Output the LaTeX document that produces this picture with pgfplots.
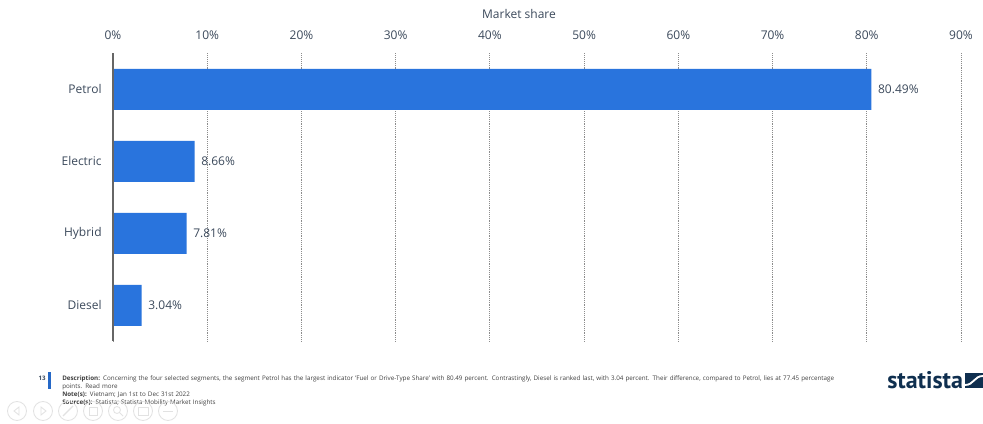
\documentclass[border=0pt]{standalone}
\usepackage{pgfplots}
\pgfplotsset{compat=1.18}
\usepackage{fontspec}
\setmainfont{Open Sans}
\newfontfamily\logofont{PT Sans}
\definecolor{barblue}{HTML}{2974DD}
\definecolor{txt}{HTML}{3C4A5C}
\definecolor{navy}{HTML}{0F2F4F}
\definecolor{navc}{HTML}{E2E2E2}
\newlength{\px}\setlength{\px}{0.75pt}
\begin{document}
\begin{tikzpicture}[x=\px,y=-\px]
\path[use as bounding box] (0,0) rectangle (983,424);
\fill[white] (0,0) rectangle (983,424);
\begin{axis}[
  at={(84.75pt,-256.1pt)},anchor=south west,
  scale only axis,width=848\px,height=288\px,
  xmin=0,xmax=90,ymin=-0.5,ymax=3.5,y dir=reverse,
  xbar,bar width=41\px,bar shift=0pt,
  axis x line*=top,axis y line*=left,
  axis line style={draw=none},
  xtick={0,10,...,90},
  xticklabel={\pgfmathprintnumber{\tick}\%},
  ytick={0,1,2,3},yticklabels={Petrol,Electric,Hybrid,Diesel},
  major tick length=0pt,
  xmajorgrids,grid style={black!45,densely dotted,line width=0.7pt},
  tick label style={font=\fontsize{9}{11}\selectfont,text=txt},
  xticklabel style={yshift=6.5pt},
  yticklabel style={xshift=-5pt},
  /pgf/number format/assume math mode=true,
  nodes near coords={\pgfmathprintnumber[fixed,fixed zerofill,precision=2]{\pgfplotspointmeta}\%},
  nodes near coords style={font=\fontsize{9}{11}\selectfont,text=txt,anchor=west,xshift=1.5pt,yshift=0.3pt},
  point meta=explicit,
  clip=false,
]
\addplot[fill=barblue,draw=none] table[x=v,y=c,meta=v]{
c v
0 80.49
1 8.66
2 7.81
3 3.04
};
\draw[black!60,line width=0.9pt] (axis cs:0,-0.5) -- (axis cs:0,3.5);
\end{axis}
\node[font=\fontsize{9}{11}\selectfont,text=txt,inner sep=0] at (519,14) {Market share};
% footer
\fill[barblue!90!black] (48,372) rectangle (51,389);
\node[anchor=east,font=\fontsize{4.6}{5}\selectfont\bfseries,text=txt,inner sep=0] at (46,378) {13};
\node[anchor=north west,inner sep=0,text width=790\px,font=\fontsize{4.7}{6.15}\selectfont,text=black!75] at (62,375)
{\textbf{Description:} Concerning the four selected segments, the segment Petrol has the largest indicator 'Fuel or Drive-Type Share' with 80.49 percent. Contrastingly, Diesel is ranked last, with 3.04 percent. Their difference, compared to Petrol, lies at 77.45 percentage points. Read more\\
\textbf{Note(s):} Vietnam; Jan 1st to Dec 31st 2022\\
\textbf{Source(s):} Statista; Statista Mobility Market Insights};
\node[anchor=west,inner sep=0,font=\logofont\fontsize{18}{18}\selectfont\bfseries,text=navy] at (887,380) {statista};
\fill[navy] (965,373) rectangle (983,388);
\draw[white,line width=1.4pt] (965,385) .. controls (974,385) and (974,376) .. (983,376);
% navigation icons
\foreach \c in {17,43,68,93,118,143,168}{\draw[navc,line width=0.6pt] (\c,411) circle (9.5);}
\draw[navc,line width=0.6pt] (19,407)--(14,411)--(19,415)--cycle;
\draw[navc,line width=0.6pt] (41,407)--(46,411)--(41,415)--cycle;
\draw[navc,line width=0.8pt] (63,416)--(73,406);
\draw[navc,line width=0.6pt] (89,407) rectangle (97,415);
\draw[navc,line width=0.6pt] (117,410) circle (3.5) (120,413)--(123,416);
\draw[navc,line width=0.6pt] (138,407) rectangle (148,415);
\draw[navc,line width=0.6pt] (163,411)--(173,411);
\end{tikzpicture}
\end{document}
